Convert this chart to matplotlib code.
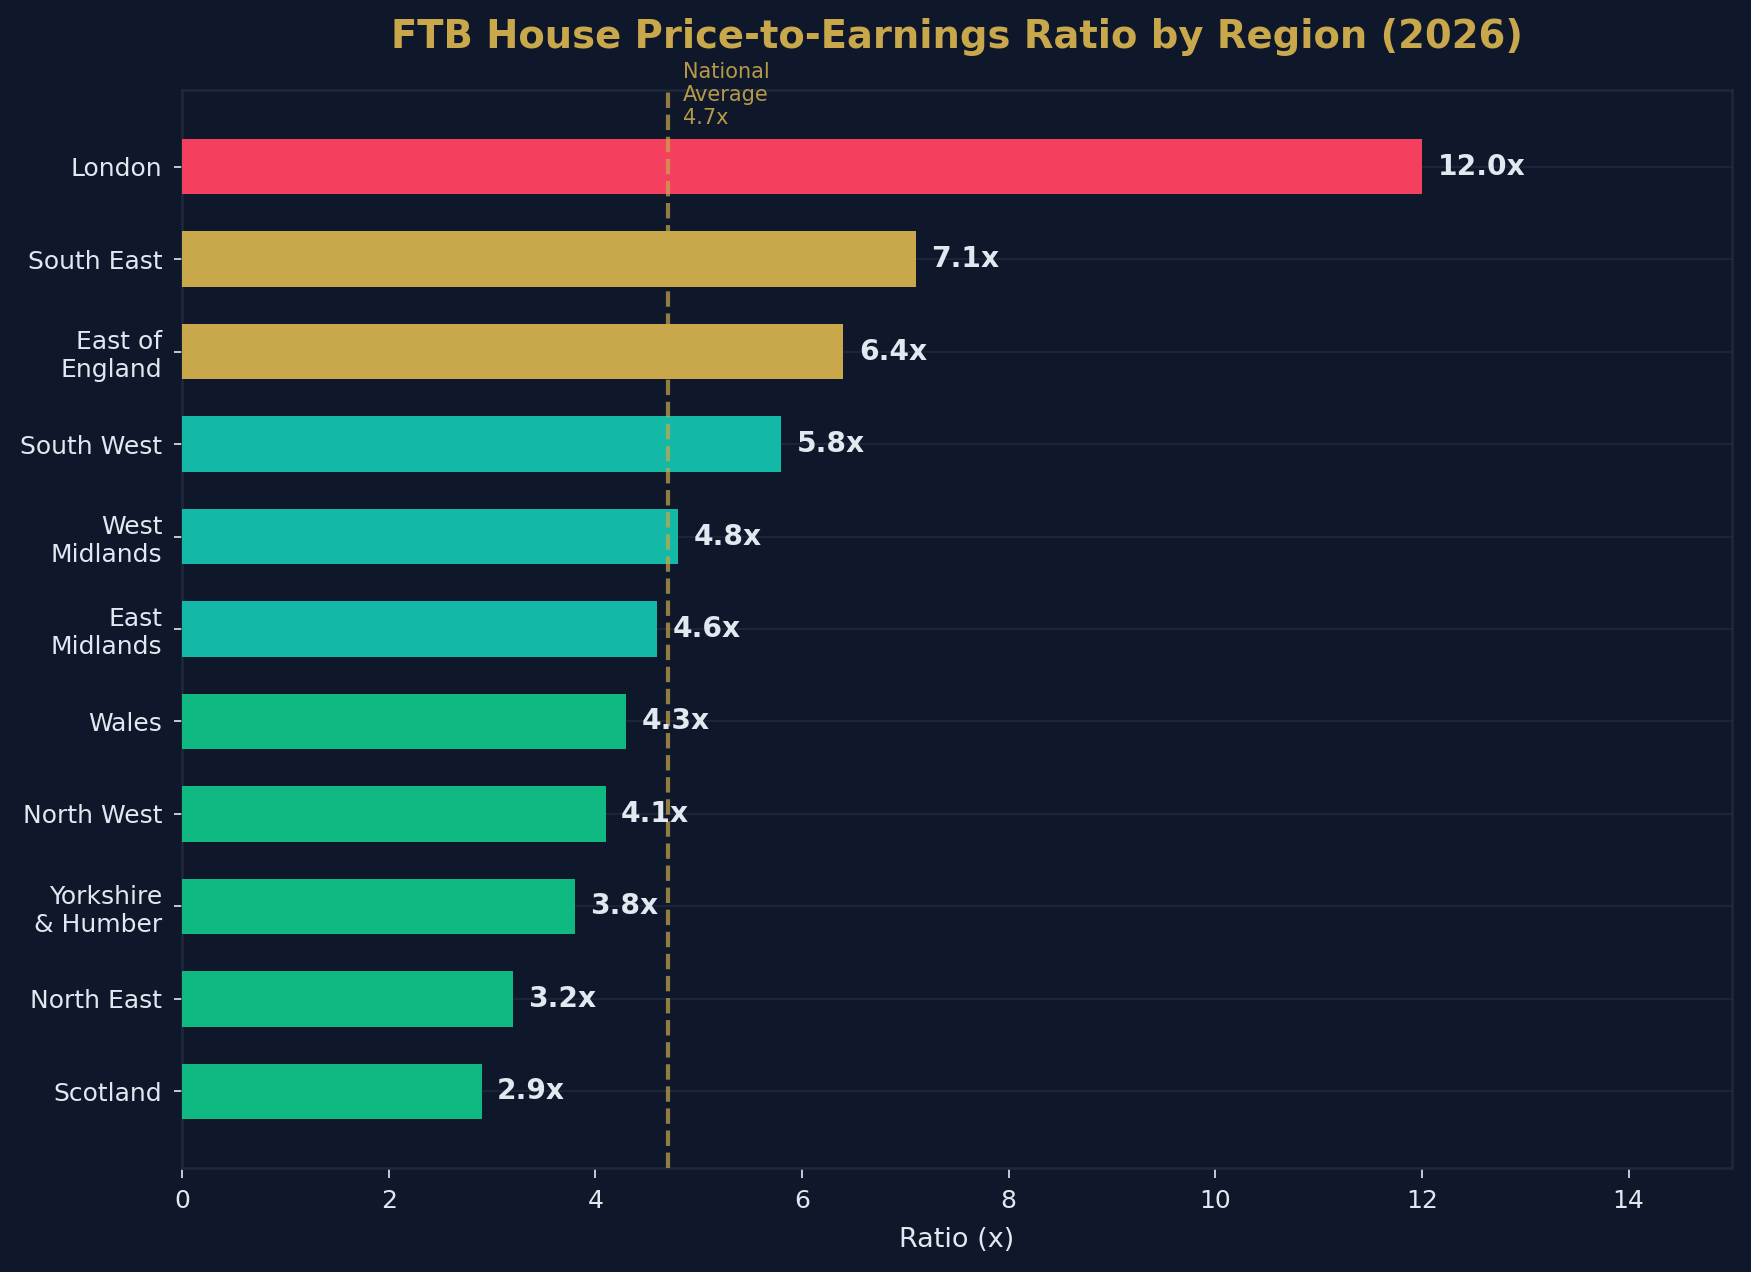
import matplotlib
matplotlib.use("Agg")
import matplotlib.pyplot as plt

regions = ["London", "South East", "East of\nEngland", "South West", "West\nMidlands",
           "East\nMidlands", "Wales", "North West", "Yorkshire\n& Humber", "North East", "Scotland"]
ratios = [12.0, 7.1, 6.4, 5.8, 4.8, 4.6, 4.3, 4.1, 3.8, 3.2, 2.9]
bar_colors = ["#f43f5e", "#c9a84c", "#c9a84c", "#14b8a6", "#14b8a6", "#14b8a6",
              "#10b981", "#10b981", "#10b981", "#10b981", "#10b981"]
national_avg = 4.7
xticks = [0, 2, 4, 6, 8, 10, 12, 14]

BG = "#0f172a"
GOLD = "#c9a84c"
TEXT = "#e2e8f0"
GRID = "#1e293b"

fig = plt.figure(figsize=(1751 / 150, 1272 / 150), dpi=150, facecolor=BG)
ax = fig.add_axes([182 / 1751, 1 - 1168 / 1272, (1732 - 182) / 1751, (1168 - 90) / 1272])
ax.set_facecolor(BG)

n = len(regions)
ypos = list(range(n - 1, -1, -1))
ax.barh(ypos, ratios, height=0.6, color=bar_colors, zorder=3)
ax.set_yticks(ypos)
ax.set_yticklabels(regions)

for y, v in zip(ypos, ratios):
    ax.text(v + 0.15, y, f"{v:.1f}x", va="center", ha="left", fontsize=13.5,
            fontweight="bold", color=TEXT, zorder=5)

ax.axvline(national_avg, color=GOLD, linestyle="--", linewidth=2, alpha=0.7, zorder=4)
ax.text(national_avg + 0.15, n - 0.58, f"National\nAverage\n{national_avg}x", color=GOLD,
        fontsize=10, va="bottom", ha="left", alpha=0.9, zorder=5)

ax.set_xlim(0, 15)
ax.set_xticks(xticks)
ax.set_xlabel("Ratio (x)", color=TEXT, fontsize=13, labelpad=7)
ax.set_title("FTB House Price-to-Earnings Ratio by Region (2026)", color=GOLD,
             fontsize=18.5, fontweight="bold", pad=20)

ax.tick_params(axis="both", colors=TEXT, labelsize=12)
ax.tick_params(axis="x", length=5, pad=5)
ax.tick_params(axis="y", length=4, pad=5.5)
ax.grid(axis="y", color=GRID, linewidth=0.8, zorder=0)
for s in ax.spines.values():
    s.set_color(GRID)
    s.set_linewidth(1.2)

fig.savefig("out.png", dpi=150, facecolor=BG)
